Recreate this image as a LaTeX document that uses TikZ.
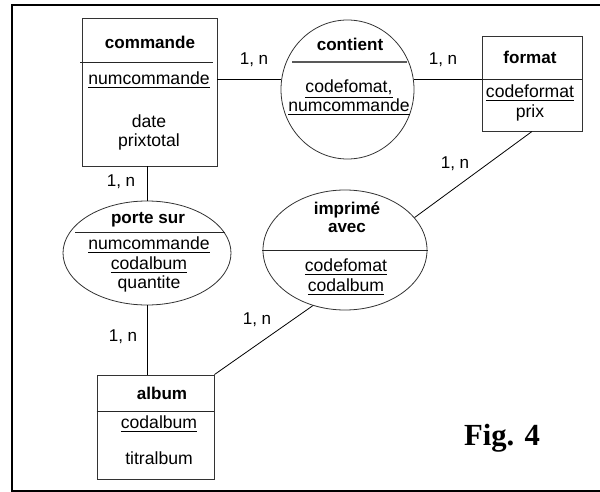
\documentclass[tikz,border=0pt]{standalone}
\usepackage{fontspec}
\setmainfont{Liberation Sans}
\newfontfamily\figfont{Liberation Serif}
\usetikzlibrary{calc,shapes.geometric}
\begin{document}
\begin{tikzpicture}[x=0.75pt, y=-0.75pt,
  every node/.style={font=\fontsize{13.2}{15}\selectfont, inner sep=0pt},
  entity/.style={draw=black!80, line width=0.7pt, rectangle},
  relation/.style={draw=black!80, line width=0.6pt, ellipse},
  link/.style={draw=black, line width=0.6pt},
  sep/.style={draw=black!85, line width=0.7pt},
  title/.style={font=\fontsize{12.8}{15}\selectfont\bfseries},
  card/.style={font=\fontsize{12.8}{15}\selectfont},
]
\useasboundingbox (0,0) rectangle (600,492);
% frame (open on the right)
\draw[line width=0.9pt] (600,5) -- (12,5) -- (12,491) -- (600,491);

% entities
\node[entity, minimum width=135*0.75pt, minimum height=148*0.75pt] (commande) at (149.5,92) {};
\node[entity, minimum width=100*0.75pt, minimum height=95*0.75pt] (format) at (532,83.5) {};
\node[entity, minimum width=117*0.75pt, minimum height=104*0.75pt] (album) at (155.5,427) {};

% relations
\node[relation, minimum width=133*0.75pt, minimum height=139*0.75pt] (contient) at (347.5,89.5) {};
\node[relation, minimum width=168*0.75pt, minimum height=104*0.75pt] (portesur) at (147,253) {};
\node[relation, minimum width=164*0.75pt, minimum height=120*0.75pt] (imprime) at (345,250) {};

% separators between name and attributes
\draw[sep] (80,62) -- (213,62);
\draw[sep, draw=black!65, line width=0.9pt] (292,62) -- (407,62);
\draw[sep] (format.west |- 0,79) -- (format.east |- 0,79);
\draw[sep] (75,232) -- (225,232);
\draw[sep] (262,250) -- (428,250);
\draw[sep] (album.west |- 0,411) -- (album.east |- 0,411);

% entity texts
\node[title] (tcommande) at (150,42) {commande};
\node (acmd1) at (149,80) {\underline{numcommande}};
\node (acmd2) at (149,121) {date};
\node (acmd3) at (149,142) {prixtotal};

\node[title] (tformat) at (530,57) {format};
\node (afmt1) at (530,93) {\underline{codeformat}};
\node (afmt2) at (530,113) {prix};

\node[title] (talbum) at (162,393) {album};
\node (aalb1) at (159,424) {\underline{codalbum}};
\node (aalb2) at (159,458) {titralbum};

% relation texts
\node[title] (tcontient) at (350,44) {contient};
\node (acnt1) at (349,89) {\underline{codefomat,}};
\node (acnt2) at (349,107) {\underline{numcommande}};

\node[title] (tporte) at (148,220) {porte sur};
\node (apor1) at (149,245) {\underline{numcommande}};
\node (apor2) at (149,265) {\underline{codalbum}};
\node (apor3) at (149,284) {quantite};

\node[title] (timp1) at (347,210) {imprimé};
\node[title] (timp2) at (347,228) {avec};
\node (aimp1) at (346,267) {\underline{codefomat}};
\node (aimp2) at (346,287) {\underline{codalbum}};

% connectors
\draw[link] (contient.171) -- (contient.171 -| commande.east);
\draw[link] (contient.9) -- (contient.9 -| format.west);
\draw[link] (portesur.north) -- (portesur.north |- commande.south);
\draw[link] (portesur.south) -- (portesur.south |- album.north);
\draw[link] (imprime.25) -- (format.south);
\draw[link] (imprime.240) -- (album.north east);

% cardinalities
\node[card] (c1) at (254,60) {1, n};
\node[card] (c2) at (443,60) {1, n};
\node[card] (c3) at (121,182) {1, n};
\node[card] (c4) at (455,164) {1, n};
\node[card] (c5) at (123,337) {1, n};
\node[card] (c6) at (257,320) {1, n};

% caption
\node[font=\figfont\bfseries\fontsize{23}{26}\selectfont] (fig) at (502,438) {Fig. 4};
\end{tikzpicture}
\end{document}
